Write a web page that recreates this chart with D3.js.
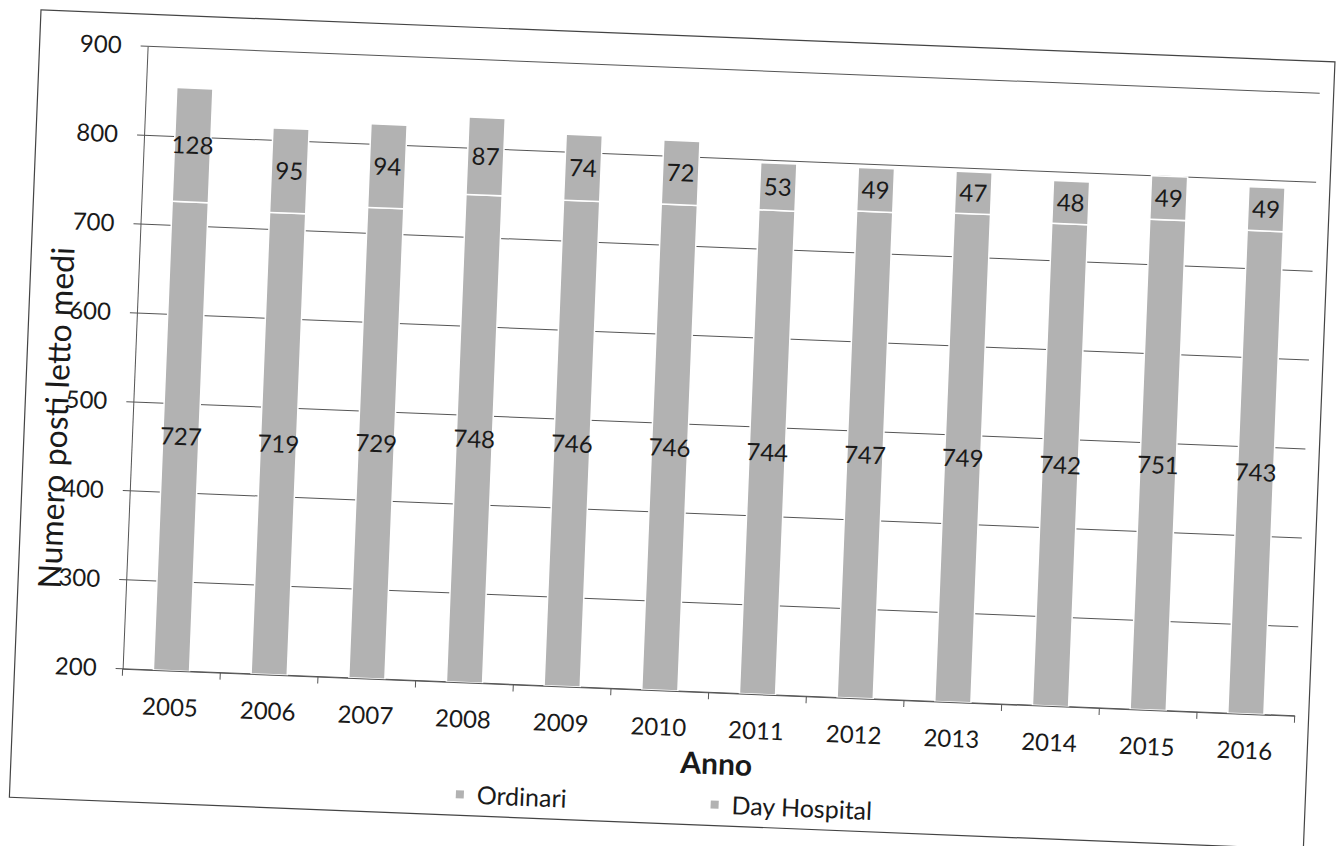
<!DOCTYPE html>
<html>
<head>
<meta charset="utf-8">
<script src="https://cdn.jsdelivr.net/npm/d3@7"></script>
<style>
  body { margin: 0; background: #fff; }
  text { font-family: Lato, "Open Sans", sans-serif; fill: #1a1a1a; }
</style>
</head>
<body>
<div id="chart"></div>
<script>
// Data
const years = ["2005", "2006", "2007", "2008", "2009", "2010", "2011", "2012", "2013", "2014", "2015", "2016"];
const ordinari = [727, 719, 729, 748, 746, 746, 744, 747, 749, 742, 751, 743];
const dayHospital = [128, 95, 94, 87, 74, 72, 53, 49, 47, 48, 49, 49];
const yTicks = [200, 300, 400, 500, 600, 700, 800, 900];
const seriesNames = ["Ordinari", "Day Hospital"];

// Frame (the scan is slightly rotated, so everything sits in a rotated group)
const frameW = 1293, frameH = 788;
const margin = {top: 32, right: 14, bottom: 133, left: 106};
const width = frameW - margin.left - margin.right;
const height = frameH - margin.top - margin.bottom;
const barColor = "#b2b2b2";

const svg = d3.select("#chart")
    .append("svg")
    .attr("width", 1343)
    .attr("height", 846);

const frame = svg.append("g")
    .attr("transform", "translate(43,10) rotate(2.3)");

frame.append("rect")
    .attr("x", -2)
    .attr("y", 0)
    .attr("width", frameW + 2)
    .attr("height", frameH)
    .attr("fill", "none")
    .attr("stroke", "#444")
    .attr("stroke-width", 1.2);

const g = frame.append("g")
    .attr("transform", `translate(${margin.left},${margin.top})`);

// Scales
const x = d3.scaleBand()
    .domain(years)
    .range([0, width])
    .paddingInner(0.63)
    .paddingOuter(0.315);

const y = d3.scaleLinear()
    .domain([200, 900])
    .range([height, 0])
    .clamp(true);

// Gridlines (extend a little left of the axis like Excel's tick marks)
g.selectAll(".grid")
    .data(yTicks)
    .join("line")
    .attr("class", "grid")
    .attr("x1", -7)
    .attr("x2", width)
    .attr("y1", d => y(d))
    .attr("y2", d => y(d))
    .attr("stroke", "#555")
    .attr("stroke-width", 1);

// Stack the data
const table = years.map((yr, i) => ({year: yr, Ordinari: ordinari[i], "Day Hospital": dayHospital[i]}));
const series = d3.stack().keys(seriesNames)(table);

const layers = g.selectAll(".layer")
    .data(series)
    .join("g")
    .attr("class", "layer");

layers.selectAll("rect")
    .data(d => d)
    .join("rect")
    .attr("x", d => x(d.data.year))
    .attr("width", x.bandwidth())
    .attr("y", d => y(d[1]))
    .attr("height", d => y(d[0]) - y(d[1]))
    .attr("fill", barColor)
    .attr("stroke", "#fff")
    .attr("stroke-width", 1.5);

// Data labels centred in the visible part of each segment
layers.selectAll("text")
    .data((s) => s.map(d => ({d, key: s.key})))
    .join("text")
    .attr("x", o => x(o.d.data.year) + x.bandwidth() / 2)
    .attr("y", o => (y(Math.max(o.d[0], 200)) + y(o.d[1])) / 2)
    .attr("dy", "0.36em")
    .attr("text-anchor", "middle")
    .style("font-size", "24px")
    .text(o => o.d.data[o.key]);

// Axes
const yAxis = g.append("g")
    .call(d3.axisLeft(y).tickValues(yTicks).tickSize(0).tickPadding(26));
yAxis.select(".domain").attr("stroke", "#555");
yAxis.selectAll("text").style("font-size", "24px").attr("fill", "#1a1a1a");

const xAxis = g.append("g")
    .attr("transform", `translate(0,${height})`)
    .call(d3.axisBottom(x).tickSize(0).tickPadding(28));
xAxis.select(".domain").attr("stroke", "#555");
xAxis.selectAll("text").style("font-size", "24px").attr("fill", "#1a1a1a");

// Category separator ticks
xAxis.selectAll(".sep")
    .data(d3.range(years.length + 1))
    .join("line")
    .attr("class", "sep")
    .attr("x1", i => i * x.step())
    .attr("x2", i => i * x.step())
    .attr("y1", 0)
    .attr("y2", 7)
    .attr("stroke", "#555");

// Axis titles
frame.append("text")
    .attr("x", 703)
    .attr("y", 726)
    .attr("dy", "0.36em")
    .attr("text-anchor", "middle")
    .style("font-size", "30px")
    .style("font-weight", "bold")
    .text("Anno");

frame.append("text")
    .attr("transform", "translate(41,407) rotate(-90)")
    .attr("text-anchor", "middle")
    .style("font-size", "32px")
    .text("Numero posti letto  medi");

// Legend
const legendPos = [444, 699];
seriesNames.forEach((name, i) => {
    const item = frame.append("g")
        .attr("transform", `translate(${legendPos[i]}, 767)`);
    item.append("rect")
        .attr("x", 0)
        .attr("y", -4)
        .attr("width", 8)
        .attr("height", 8)
        .attr("fill", barColor);
    item.append("text")
        .attr("x", 21)
        .attr("y", 0)
        .attr("dy", "0.36em")
        .style("font-size", "25px")
        .text(name);
});
</script>
</body>
</html>
